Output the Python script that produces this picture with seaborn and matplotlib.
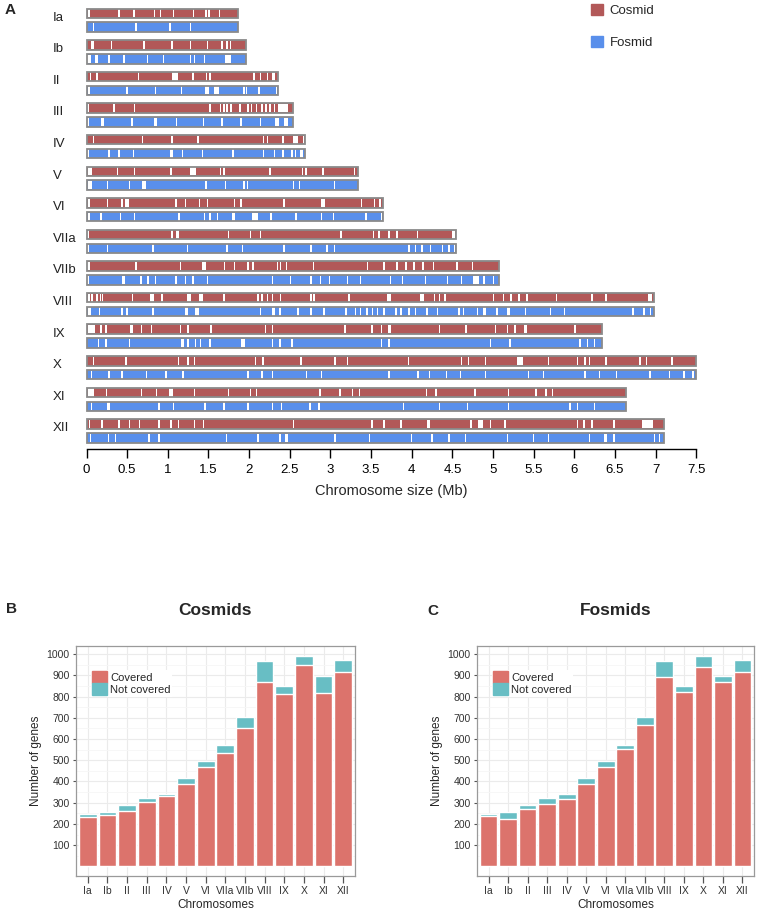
import matplotlib
matplotlib.use("Agg")
import matplotlib.pyplot as plt
from matplotlib.patches import Patch
import seaborn as sns

# ---- data -------------------------------------------------------------
chroms = ["Ia", "Ib", "II", "III", "IV", "V", "VI", "VIIa", "VIIb",
          "VIII", "IX", "X", "XI", "XII"]
chrom_size = [1.86, 1.96, 2.35, 2.54, 2.69, 3.34, 3.65, 4.55, 5.07,
              6.98, 6.34, 7.50, 6.64, 7.10]

# uncovered regions (Mb): plain number = thin gap, tuple = (start, width)
cosmid_gaps = [
    [0.02, 0.39, (0.57, 0.03), 0.83, 0.90, 1.06, 1.31, 1.46, 1.50, 1.63],
    [(0.06, 0.035), 0.30, 0.70, 1.04, 1.27, 1.48, 1.66, 1.72, 1.76],
    [0.04, 0.12, 0.63, (1.05, 0.08), 1.30, 1.47, 1.51, 2.05, 2.13, 2.22, (2.28, 0.035)],
    [0.01, 0.33, 0.58, 1.51, 1.64, 1.68, 1.72, 1.77, 1.88, 1.98, 2.02, 2.08, 2.15,
     2.20, 2.25, 2.30, (2.35, 0.13)],
    [0.08, 0.68, 1.04, 1.36, 2.17, 2.22, 2.41, (2.54, 0.06), 2.66],
    [(0.02, 0.05), 0.37, 0.58, 1.03, (1.27, 0.08), 1.64, 1.68, 2.25, 2.65, 2.69, 2.90, 3.29],
    [0.02, 0.25, 0.43, (0.47, 0.05), 1.09, 1.21, 1.38, 1.48, 1.81, 1.89, 2.42,
     (2.89, 0.04), 3.37, 3.53, 3.60],
    [0.01, 1.04, (1.10, 0.035), 1.74, 2.01, 2.13, 3.12, 3.52, 3.59, 3.71, 3.81, 4.06,
     (4.49, 0.04)],
    [(0.01, 0.035), 0.60, 1.15, (1.42, 0.05), 1.69, 1.81, 1.98, 2.04, 2.34, 2.38, 2.45,
     2.78, 3.45, 3.65, 3.81, 3.92, 4.02, 4.13, 4.26, 4.55, 4.74],
    [0.02, 0.06, 0.12, 0.16, 0.19, 0.56, (0.78, 0.05), 0.92, (1.23, 0.05), (1.38, 0.05),
     1.68, 2.10, 2.15, 2.22, 2.28, 2.38, 2.75, 2.79, 3.22, (3.69, 0.05), (4.10, 0.05),
     4.27, 4.33, 4.40, 5.00, 5.12, 5.21, 5.31, 5.41, 5.77, 6.21, 6.38, (6.91, 0.05)],
    [(0.02, 0.09), 0.17, 0.23, (0.53, 0.04), 0.67, 0.79, 1.15, 1.24, 1.52, 2.19, 2.28,
     3.17, 3.50, 3.62, (3.71, 0.04), 4.33, 4.66, 5.02, 5.17, 5.26, (5.38, 0.04), 6.00],
    [0.08, (0.47, 0.03), 1.12, 1.24, 1.32, 2.07, 2.16, 2.63, 3.05, 3.20, 3.95, 4.60,
     4.69, 4.90, (5.29, 0.08), 5.67, 6.03, 6.12, 6.18, 6.38, 6.80, 6.88, 7.19],
    [(0.02, 0.07), 0.24, 0.67, 0.85, (1.01, 0.06), 1.32, 1.74, 2.01, 2.08, 2.86, 3.11,
     3.26, 3.35, 4.17, 4.29, 4.77, 5.18, 5.52, 5.64, 5.72],
    [0.03, 0.18, 0.39, 0.52, 0.64, 0.88, 1.03, 1.12, 1.32, 1.43, 2.54, 3.50, 3.65, 3.86,
     (4.19, 0.04), 4.72, (4.82, 0.06), 4.96, 5.14, 6.03, 6.11, 6.21, 6.48, (6.83, 0.14)],
]
fosmid_gaps = [
    [0.08, 0.60, 1.02, 1.27],
    [(0.01, 0.05), (0.11, 0.03), 0.27, 0.45, 0.74, 0.94, 1.27, 1.32, 1.44, (1.70, 0.08)],
    [0.02, 0.49, 0.84, 1.16, (1.46, 0.05), (1.57, 0.06), 1.93, 1.96, 2.11, 2.33],
    [0.01, (0.18, 0.035), 0.55, (0.83, 0.035), 1.10, 1.43, 1.66, 1.89, 2.13,
     (2.32, 0.05), (2.43, 0.045)],
    [0.01, 0.27, 0.39, 0.57, (1.03, 0.035), 1.17, 1.42, 1.79, 2.17, 2.30, 2.41, 2.52,
     2.56, (2.62, 0.04)],
    [(0.02, 0.05), 0.25, 0.52, (0.68, 0.05), 1.46, 1.70, 1.93, 1.97, 2.54, 2.61, 3.04],
    [0.02, 0.17, 0.41, 0.58, 1.13, 1.44, 1.51, 1.60, (1.79, 0.04), (2.04, 0.065), 2.26,
     2.57, 2.88, 3.03, 3.43, 3.62],
    [0.01, 0.25, 0.81, 1.23, 1.72, 1.91, 2.42, 2.75, 2.95, 3.04, 3.96, 4.04, 4.12, 4.22,
     4.37, 4.45, 4.52],
    [0.01, (0.44, 0.035), 0.66, 0.75, 0.84, 1.09, 1.21, 1.30, 1.48, 2.28, 2.50, 2.75,
     2.87, 2.98, 3.20, 3.36, 3.73, 3.88, 4.16, 4.43, 4.60, (4.75, 0.08), 4.88, 5.00],
    [(0.02, 0.035), 0.15, 0.43, (0.48, 0.035), 0.81, (1.21, 0.035), (1.34, 0.04), 2.13,
     (2.28, 0.035), 2.37, 2.59, 2.75, 2.91, 3.18, 3.30, 3.36, 3.44, 3.51, 3.57, 3.65,
     3.80, 3.86, 3.96, 4.04, 4.18, 4.31, 4.57, 4.63, 4.80, (4.88, 0.035), 5.04, 5.17,
     5.19, 5.39, 5.70, 5.87, 6.71, (6.84, 0.035), 6.93],
    [0.14, 0.23, 0.52, (1.16, 0.04), 1.24, 1.33, 1.39, 1.51, (1.90, 0.045), 2.28, 2.37,
     2.52, 3.62, 3.71, 4.96, 5.20, 6.06, 6.15, 6.24],
    [0.05, 0.27, 0.43, 0.73, (0.96, 0.035), 1.18, 1.98, 2.15, 2.28, 2.70, 2.88, 3.71,
     4.07, 4.21, 4.42, 4.59, 4.90, 5.43, 5.61, 6.12, 6.30, 6.51, 6.92, 7.16, 7.34, 7.45],
    [0.05, (0.25, 0.035), 0.88, 1.06, 1.45, 1.68, 1.98, 2.28, 2.39, 2.74, 2.85, 3.89,
     4.33, 4.68, 5.18, 5.94, 6.03, 6.24],
    [0.04, 0.26, 0.35, 0.76, 0.88, 1.71, 2.10, 2.37, (2.44, 0.035), 3.05, 3.47, 3.99,
     4.24, 4.45, 4.65, 5.17, 5.49, 5.67, 6.18, (6.37, 0.035), 6.48, 6.98, 7.04],
]

# genes per chromosome (total) and genes covered
genes_total = [247, 257, 291, 322, 343, 416, 496, 573, 703, 967, 850, 989, 897, 972]
cosmid_covered = [235, 241, 263, 304, 330, 387, 466, 535, 653, 867, 814, 948, 817, 915]
fosmid_covered = [238, 225, 269, 296, 319, 388, 466, 551, 667, 894, 822, 940, 869, 917]

# ---- style ------------------------------------------------------------
sns.set_style("white")
plt.rcParams["font.family"] = ["Liberation Sans", "DejaVu Sans"]

COS = "#B25858"
FOS = "#598FEB"
EDGE = "#8a8a8a"
C_COV = "#DC736C"
C_NOT = "#68BEC4"
THIN = 0.018

W, H = 760, 913
fig = plt.figure(figsize=(W / 100, H / 100), dpi=100)

# ---- panel A ------------------------------------------------------------
ax = fig.add_axes([86.5 / W, 1 - 449.3 / H, 609.8 / W, 449.3 / H])
off, hgt = 0.22, 0.30
for i, (name, size) in enumerate(zip(chroms, chrom_size)):
    for dy, col, gaps in ((-off, COS, cosmid_gaps[i]), (off, FOS, fosmid_gaps[i])):
        ax.barh(i + dy, size, left=0, height=hgt, color=col, edgecolor="none", clip_on=False)
        starts = [g[0] if isinstance(g, tuple) else g for g in gaps]
        widths = [g[1] if isinstance(g, tuple) else THIN for g in gaps]
        ax.barh([i + dy] * len(starts), widths, left=starts, height=hgt - 0.04,
                color="white", edgecolor="none", clip_on=False)
        ax.barh(i + dy, size, left=0, height=hgt, fill=False, edgecolor=EDGE,
                linewidth=1.3, clip_on=False)
    ax.text(-0.41, i - 0.08, name, ha="left", va="center", fontsize=9.5, color="#222222")

ax.set_xlim(0, 7.5)
ax.set_ylim(13.58, -0.64)
ax.set_xticks([x / 2 for x in range(16)])
ax.set_xticklabels(["0", "0.5", "1", "1.5", "2", "2.5", "3", "3.5", "4", "4.5",
                    "5", "5.5", "6", "6.5", "7", "7.5"])
ax.set_yticks([])
for s in ("left", "top", "right"):
    ax.spines[s].set_visible(False)
ax.spines["bottom"].set_color("black")
ax.spines["bottom"].set_linewidth(1)
ax.tick_params(axis="x", direction="out", length=6.5, width=1, pad=4,
               labelsize=9.5, bottom=True, colors="black")
ax.set_xlabel("Chromosome size (Mb)", fontsize=10.5, labelpad=6)

fig.legend(handles=[Patch(color=COS, label="Cosmid"), Patch(color=FOS, label="Fosmid")],
           loc="upper left", bbox_to_anchor=(591 / W, 1 - 4 / H), frameon=False,
           fontsize=9.5, handlelength=0.9, handleheight=0.9, labelspacing=1.45,
           handletextpad=0.5, borderpad=0, borderaxespad=0)
fig.text(5 / W, 1 - 10 / H, "A", fontsize=11, fontweight="bold", va="center")


# ---- panels B / C ------------------------------------------------------
def coverage_panel(rect, covered, title):
    bx = fig.add_axes(rect)
    sns.barplot(x=chroms, y=genes_total, color=C_NOT, saturation=1, width=0.9, ax=bx)
    sns.barplot(x=chroms, y=covered, color=C_COV, saturation=1, width=0.9, ax=bx)
    bx.set_xlim(-0.6, 13.6)
    bx.set_ylim(-45, 1038)
    bx.set_yticks(range(100, 1001, 100))
    bx.set_yticks(range(50, 1001, 100), minor=True)
    bx.set_axisbelow(True)
    bx.grid(which="major", color="#ebebeb", linewidth=0.8)
    bx.grid(which="minor", axis="y", color="#f6f6f6", linewidth=0.6)
    for s in bx.spines.values():
        s.set_visible(True)
        s.set_color("#9a9a9a")
        s.set_linewidth(0.9)
    bx.tick_params(axis="x", length=5, width=0.9, color="#555555", labelsize=7.5,
                   labelcolor="#333333", pad=2, bottom=True)
    bx.tick_params(axis="y", length=2.5, width=0.8, color="#555555", labelsize=7.5,
                   labelcolor="#333333", pad=2, left=True)
    bx.tick_params(which="minor", length=0)
    bx.set_xlabel("Chromosomes", fontsize=8.5, labelpad=2)
    bx.set_ylabel("Number of genes", fontsize=8.5, labelpad=3)
    bx.set_title(title, fontsize=12.5, fontweight="bold", pad=22)
    bx.legend(handles=[Patch(color=C_COV, label="Covered"),
                       Patch(color=C_NOT, label="Not covered")],
              loc="upper left", bbox_to_anchor=(0.055, 0.895), frameon=True,
              facecolor="white", edgecolor="none", framealpha=1, fancybox=False,
              fontsize=8, handlelength=1.3, handleheight=1.3, labelspacing=0,
              handletextpad=0.3, borderpad=0.1, borderaxespad=0)
    return bx


coverage_panel([76 / W, 1 - 876 / H, 279 / W, 230 / H], cosmid_covered, "Cosmids")
coverage_panel([477 / W, 1 - 876 / H, 277 / W, 230 / H], fosmid_covered, "Fosmids")
fig.text(6 / W, 1 - 609 / H, "B", fontsize=11, fontweight="bold", va="center")
fig.text(427 / W, 1 - 611 / H, "C", fontsize=11, fontweight="bold", va="center")

fig.savefig("out.png", dpi=100)
